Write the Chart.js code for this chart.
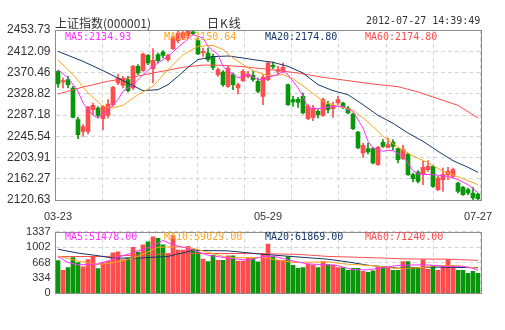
<!DOCTYPE html>
<html>
<head>
<meta charset="utf-8">
<script src="https://cdn.jsdelivr.net/npm/chart.js@4.4.1/dist/chart.umd.min.js"></script>
<style>
  body { margin: 0; background: #fff; width: 505px; height: 330px; overflow: hidden; position: relative; }
  canvas { position: absolute; left: 0; }
  #k { top: 0; }
  #v { top: 220px; }
  .t { position: absolute; white-space: nowrap; line-height: 12px; color: #333; }
  .m { font: 10px "DejaVu Sans Mono", monospace; }
</style>
</head>
<body>
<canvas id="k" width="505" height="225"></canvas>
<canvas id="v" width="505" height="85"></canvas>
<div class="t" style="left:55px;top:14px;font:12px 'Noto Sans CJK SC'">上证指数(000001)</div>
<div class="t" style="left:207px;top:14px;font:12px 'Noto Sans CJK SC';letter-spacing:1px">日K线</div>
<div class="t m" style="left:366px;top:15px">2012-07-27 14:39:49</div>
<div class="t m" style="left:65px;top:31px;color:#ff33ff">MA5:2134.93</div>
<div class="t m" style="left:164px;top:31px;color:#ffa51f">MA10:2150.64</div>
<div class="t m" style="left:265px;top:31px;color:#16386b">MA20:2174.80</div>
<div class="t m" style="left:365px;top:31px;color:#ff4d4d">MA60:2174.80</div>
<div class="t m" style="left:65px;top:231px;color:#ff33ff">MA5:51478.00</div>
<div class="t m" style="left:164px;top:231px;color:#ffa51f">MA10:59029.00</div>
<div class="t m" style="left:265px;top:231px;color:#16386b">MA20:61869.00</div>
<div class="t m" style="left:365px;top:231px;color:#ff4d4d">MA60:71240.00</div>
<script>
// trading days 2012-03-23 .. 2012-07-27
var dates = ['03-23','03-26','03-27','03-28','03-29','03-30','04-05','04-06','04-09','04-10',
  '04-11','04-12','04-13','04-16','04-17','04-18','04-19','04-20','04-23','04-24',
  '04-25','04-26','04-27','05-02','05-03','05-04','05-07','05-08','05-09','05-10',
  '05-11','05-14','05-15','05-16','05-17','05-18','05-21','05-22','05-23','05-24',
  '05-25','05-28','05-29','05-30','05-31','06-01','06-04','06-05','06-06','06-07',
  '06-08','06-11','06-12','06-13','06-14','06-15','06-18','06-19','06-20','06-21',
  '06-25','06-26','06-27','06-28','06-29','07-02','07-03','07-04','07-05','07-06',
  '07-09','07-10','07-11','07-12','07-13','07-16','07-17','07-18','07-19','07-20',
  '07-23','07-24','07-25','07-26','07-27'];
var xLabels = ['03-23', '05-29', '07-27'];
var priceTicks = [2120.63, 2162.27, 2203.91, 2245.54, 2287.18, 2328.82, 2370.46, 2412.09, 2453.73];
var volTicks = [0, 334, 668, 1002, 1337];

var open = [2372.8,2351.9,2356.4,2340.1,2278.0,2255.2,2255.2,2297.6,2300.9,2280.0,
  2286.5,2307.4,2349.9,2345.3,2356.4,2340.1,2382.6,2374.1,2404.1,2378.0,
  2405.4,2410.6,2395.6,2417.2,2432.8,2438.1,2443.3,2450.0,2432.8,2409.3,
  2408.6,2402.1,2366.2,2371.4,2343.4,2366.2,2340.1,2354.5,2363.0,2364.9,
  2353.2,2323.8,2356.4,2384.5,2372.8,2374.1,2346.6,2317.2,2317.9,2323.8,
  2280.0,2282.6,2294.4,2286.5,2307.4,2299.6,2310.7,2310.7,2300.9,2289.1,
  2253.9,2212.7,2221.2,2221.2,2189.9,2233.6,2223.8,2234.3,2221.2,2201.6,
  2210.8,2170.3,2175.5,2170.3,2180.1,2186.6,2140.9,2160.5,2170.3,2167.0,
  2154.0,2145.5,2140.9,2134.4,2132.4];
var high = [2374.1,2359.7,2363.0,2343.4,2282.6,2268.3,2304.2,2310.7,2303.5,2306.1,
  2317.2,2343.4,2367.5,2363.0,2363.0,2384.5,2385.8,2408.6,2405.4,2417.2,
  2408.6,2413.2,2406.7,2441.3,2451.1,2450.5,2453.73,2452.0,2438.1,2418.5,
  2418.5,2406.7,2379.3,2374.1,2382.6,2369.5,2349.9,2376.0,2372.8,2372.8,
  2359.7,2366.2,2392.3,2391.0,2382.6,2389.1,2347.9,2323.8,2321.8,2330.3,
  2307.4,2306.1,2297.6,2320.5,2314.0,2312.7,2323.8,2312.7,2304.2,2291.1,
  2255.2,2232.3,2232.3,2223.8,2225.8,2238.9,2242.1,2238.9,2222.5,2227.8,
  2212.7,2173.6,2178.1,2196.4,2197.7,2188.6,2167.0,2183.3,2184.6,2183.3,
  2155.9,2147.4,2144.2,2145.5,2134.4];
var low = [2341.4,2340.1,2340.1,2281.3,2240.8,2245.4,2250.0,2287.8,2281.3,2258.5,
  2281.3,2304.2,2346.6,2340.1,2332.3,2336.8,2366.2,2372.8,2385.8,2349.9,
  2389.1,2398.9,2392.3,2415.2,2428.3,2434.8,2438.0,2444.6,2405.4,2402.1,
  2392.3,2376.0,2363.0,2343.4,2341.4,2336.8,2328.3,2353.2,2359.7,2353.2,
  2330.3,2307.4,2354.5,2378.0,2366.2,2369.5,2306.1,2304.2,2302.2,2289.1,
  2278.0,2276.1,2281.3,2284.6,2291.1,2282.6,2307.4,2299.6,2289.1,2258.5,
  2221.2,2204.2,2210.8,2191.2,2188.6,2223.8,2222.5,2219.3,2193.1,2199.6,
  2169.0,2155.9,2154.0,2150.7,2176.8,2145.5,2138.9,2137.6,2160.5,2163.7,
  2134.4,2129.8,2131.1,2121.3,2120.63];
var close = [2347.9,2354.5,2346.6,2282.6,2248.7,2264.3,2302.9,2306.1,2286.5,2304.2,
  2308.7,2341.4,2359.7,2358.4,2334.9,2382.6,2369.5,2406.7,2389.1,2394.3,
  2393.6,2404.1,2404.1,2438.1,2447.9,2448.5,2451.5,2446.5,2406.7,2411.9,
  2395.6,2380.6,2376.0,2346.6,2379.3,2346.6,2346.6,2372.8,2367.5,2356.4,
  2333.6,2361.0,2389.1,2381.2,2376.0,2380.6,2307.4,2312.7,2312.0,2291.1,
  2304.2,2300.9,2287.8,2317.2,2297.6,2306.1,2317.2,2302.2,2291.1,2260.4,
  2222.5,2227.8,2214.7,2193.1,2223.8,2225.8,2229.1,2225.8,2199.6,2219.3,
  2170.3,2162.4,2157.2,2184.6,2186.6,2147.4,2163.7,2170.3,2176.8,2180.1,
  2137.6,2131.1,2134.4,2124.6,2123.2];
var volume = [712,497,560,777,668,573,732,796,535,668,
  700,879,898,732,770,999,892,1050,1114,1222,
  1190,1050,860,1250,936,936,1018,955,892,745,
  688,827,713,713,815,815,700,700,764,751,
  682,860,1069,796,713,713,796,605,541,560,
  637,605,560,688,624,617,560,560,497,541,
  541,478,458,490,573,560,573,497,497,688,
  688,560,541,732,522,605,497,605,732,586,
  497,497,434,478,434];

// moving averages at these day indexes
var ma5At = [0,2,4,5,7,8,10,12,13,15,17,19,21,22,24,26,27,29,30,32,33,34,36,37,38,40,41,42,44,45,46,48,49,50,52,53,55,57,58,59,61,62,63,65,66,67,69,70,71,72,75,78,80,82,84];
var ma5 = [2376.0,2359.7,2333.6,2310.7,2286.5,2281.3,2297.6,2317.2,2333.6,2346.6,2366.2,2382.5,2395.6,2402.1,2419.8,2436.1,2444.6,2438.1,2421.7,2405.4,2382.5,2374.1,2359.7,2363.0,2366.2,2356.4,2356.4,2361.0,2366.2,2374.1,2366.2,2340.1,2323.8,2300.9,2299.6,2300.9,2304.2,2304.2,2297.6,2294.4,2261.7,2235.6,2222.5,2216.0,2218.0,2217.3,2206.2,2193.1,2178.1,2171.6,2170.3,2167.0,2160.5,2150.7,2134.9];
var ma10At = [0,3,6,9,11,13,16,19,22,25,28,31,33,35,37,39,42,45,47,50,53,56,59,62,65,68,71,74,77,80,82,84];
var ma10 = [2394.9,2366.2,2330.3,2304.2,2300.9,2306.1,2327.0,2343.4,2376.0,2405.4,2421.7,2423.7,2415.2,2398.9,2385.8,2374.1,2364.3,2366.2,2358.4,2336.8,2314.0,2304.2,2297.0,2273.5,2245.4,2223.8,2206.9,2193.8,2176.8,2165.7,2158.5,2150.6];
var ma20At = [0,5,9,13,17,20,22,24,26,28,31,34,37,40,43,46,49,52,55,58,61,64,67,70,73,76,79,82,84];
var ma20 = [2411.9,2392.3,2374.1,2354.5,2334.9,2336.8,2346.6,2363.0,2380.6,2395.6,2401.5,2402.8,2398.9,2394.3,2390.4,2382.5,2369.5,2346.6,2334.9,2327.0,2307.4,2286.5,2270.9,2251.9,2235.6,2216.0,2197.7,2184.7,2174.8];
var ma60At = [0,5,10,15,20,25,29,33,37,42,48,53,58,63,68,72,76,80,84];
var ma60 = [2328.3,2342.0,2353.2,2361.6,2371.4,2380.6,2385.1,2384.5,2381.9,2376.7,2369.5,2361.0,2354.5,2347.9,2342.7,2332.3,2319.2,2306.1,2281.3];

var vma5At = [0,2,4,8,10,12,14,16,19,21,23,26,30,34,38,41,43,47,50,54,56,59,62,64,68,72,74,77,81,83,84];
var vma5 = [796,668,617,637,700,790,846,923,1018,1146,1050,974,827,764,720,796,808,700,637,617,600,510,510,541,605,617,617,586,586,541,497];
var vma10At = [0,4,8,12,16,20,24,27,31,34,41,47,54,58,63,68,73,76,80,84];
var vma10 = [808,700,624,680,796,1000,1010,974,860,770,777,668,682,630,600,535,560,605,600,541];
var vma20At = [0,4,8,11,16,22,27,34,41,47,54,58,62,68,75,84];
var vma20 = [955,872,815,764,764,800,930,920,846,796,740,680,610,545,570,555];
var vma60At = [0,10,20,30,40,48,54,62,70,78,84];
var vma60 = [796,800,850,865,860,845,800,775,745,740,715];

var UP = '#ff4d4d', DOWN = '#0a960a';
var C5 = '#ff33ff', C10 = '#ffa51f', C20 = '#16386b', C60 = '#ff4d4d';
var GRID = '#d6d6d6';

var barColors = open.map(function (o, i) { return close[i] >= o ? UP : DOWN; });

function pts(at, vals) {
  return at.map(function (i, k) { return { x: dates[i], y: vals[k] }; });
}
function maLine(label, at, vals, color) {
  return { type: 'line', label: label, data: pts(at, vals), borderColor: color,
    borderWidth: 1, pointRadius: 0, tension: 0, order: 0 };
}

var frame = {
  id: 'frame',
  afterDatasetsDraw: function (chart) {
    var a = chart.chartArea, ctx = chart.ctx;
    var l = Math.floor(a.left) + 0.5, r = Math.round(a.right) + 0.5;
    var t = Math.round(a.top) + 0.5, b = Math.round(a.bottom) + 0.5;
    ctx.save();
    ctx.strokeStyle = '#8c8c8c';
    ctx.lineWidth = 1;
    ctx.strokeRect(l, t, r - l, b - t);
    ctx.restore();
  }
};

var gridX = {
  type: 'linear', position: 'bottom', min: 0, max: 8,
  ticks: { display: false, stepSize: 1 },
  grid: { color: GRID, drawTicks: false },
  border: { display: false, dash: [4, 3] },
  afterFit: function (s) { s.height = 0; }
};

Chart.defaults.font.family = '"Liberation Sans", Arial, sans-serif';
Chart.defaults.color = '#333';

new Chart(document.getElementById('k'), {
  type: 'bar',
  data: {
    labels: dates,
    datasets: [
      maLine('MA5', ma5At, ma5, C5),
      maLine('MA10', ma10At, ma10, C10),
      maLine('MA20', ma20At, ma20, C20),
      maLine('MA60', ma60At, ma60, C60),
      { label: 'body', data: open.map(function (o, i) { return [o, close[i]]; }),
        backgroundColor: barColors, barThickness: 4, minBarLength: 1, grouped: false, order: 5 },
      { label: 'wick', data: low.map(function (l, i) { return [l, high[i]]; }),
        backgroundColor: barColors, barThickness: 1, grouped: false, order: 6 }
    ]
  },
  options: {
    responsive: false,
    animation: false,
    layout: { padding: { top: 30, right: 24.5, bottom: 0, left: 0 } },
    plugins: { legend: { display: false }, tooltip: { enabled: false } },
    scales: {
      x: {
        grid: { display: false, drawTicks: false },
        border: { display: false },
        ticks: {
          autoSkip: false, maxRotation: 0, padding: 10,
          font: { size: 11 },
          callback: function (v, i) { return xLabels.indexOf(dates[i]) >= 0 ? dates[i] : ''; }
        },
        afterFit: function (s) { s.height = 25; }
      },
      x2: gridX,
      y: {
        min: priceTicks[0], max: priceTicks[priceTicks.length - 1],
        afterBuildTicks: function (s) { s.ticks = priceTicks.map(function (v) { return { value: v }; }); },
        ticks: { padding: 5, font: { size: 12 }, callback: function (v) { return v.toFixed(2); } },
        grid: { color: GRID, drawTicks: false },
        border: { display: false, dash: [4, 3] },
        afterFit: function (s) { s.width = 55.5; }
      }
    }
  },
  plugins: [frame]
});

new Chart(document.getElementById('v'), {
  type: 'bar',
  data: {
    labels: dates,
    datasets: [
      maLine('MA5', vma5At, vma5, C5),
      maLine('MA10', vma10At, vma10, C10),
      maLine('MA20', vma20At, vma20, C20),
      maLine('MA60', vma60At, vma60, C60),
      { label: 'volume', data: volume, backgroundColor: barColors, barThickness: 4, grouped: false, order: 5 }
    ]
  },
  options: {
    responsive: false,
    animation: false,
    layout: { padding: { top: 10, right: 24.5, bottom: 5, left: 0 } },
    plugins: { legend: { display: false }, tooltip: { enabled: false } },
    scales: {
      x: { display: false },
      x2: gridX,
      y: {
        min: 0, max: volTicks[volTicks.length - 1],
        afterBuildTicks: function (s) { s.ticks = volTicks.map(function (v) { return { value: v }; }); },
        ticks: { padding: 5, font: { size: 11 }, callback: function (v) { return String(v); } },
        grid: { color: GRID, drawTicks: false },
        border: { display: false, dash: [4, 3] },
        afterFit: function (s) { s.width = 55.5; }
      }
    }
  },
  plugins: [frame]
});
</script>
</body>
</html>
